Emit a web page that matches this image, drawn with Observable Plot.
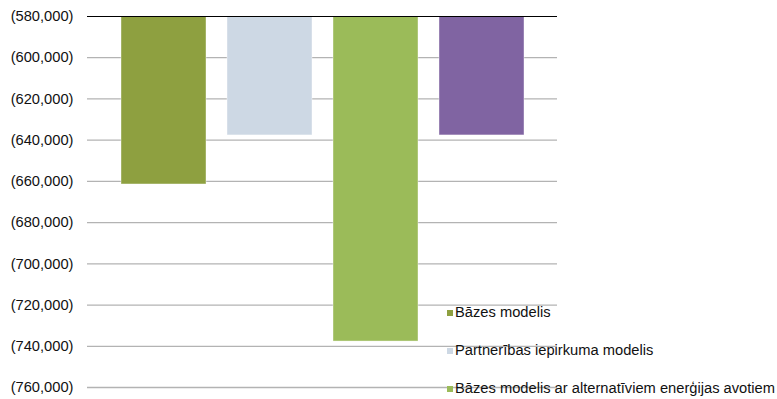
<!DOCTYPE html>
<html>
<head>
<meta charset="utf-8">
<script src="https://cdn.jsdelivr.net/npm/d3@7"></script>
<script src="https://cdn.jsdelivr.net/npm/@observablehq/plot@0.6"></script>
<style>
  html, body { margin: 0; padding: 0; background: #fff; overflow: hidden; }
  #wrap { position: relative; width: 777px; height: 399px; font-family: "Liberation Sans", Arial, sans-serif; }
  #legend { position: absolute; left: 447px; top: 304px; font-size: 14.7px; color: #111; }
  .item { position: absolute; left: 0; white-space: nowrap; height: 17px; line-height: 17px; }
  .sw { display: inline-block; width: 6px; height: 6px; margin-right: 2px; vertical-align: 1px; }
</style>
</head>
<body>
<div id="wrap"></div>
<script>
const categories = [
  "Bāzes modelis",
  "Partnerības iepirkuma modelis",
  "Bāzes modelis ar alternatīviem enerģijas avotiem",
  "Partnerības iepirkuma modelis ar alternatīviem enerģijas avotiem"
];
const values = [-661500, -637700, -737700, -637700];
const colors = ["#8ea040", "#cdd8e4", "#9bbb59", "#8064a2"];
const tickValues = [-580000, -600000, -620000, -640000, -660000, -680000, -700000, -720000, -740000, -760000];
const baseline = -580000;
const legendShown = 3;

const data = categories.map((c, i) => ({ cat: c, value: values[i], color: colors[i] }));
const fmt = d => `(${d3.format(",")(-d)})`;

const chart = Plot.plot({
  width: 777,
  height: 399,
  marginLeft: 87,
  marginRight: 220,
  marginTop: 16,
  marginBottom: 12,
  style: { fontFamily: "Liberation Sans, Arial, sans-serif", fontSize: "14.7px", color: "#111", background: "#fff" },
  x: { domain: categories, paddingInner: 0.2, paddingOuter: 0.307, axis: null },
  y: { domain: [-760000, -580000], ticks: tickValues, tickFormat: fmt, tickSize: 0, tickPadding: 14, label: null },
  marks: [
    Plot.ruleY(tickValues.filter(t => t !== baseline), { stroke: "#b3b3b3", strokeWidth: 1.3 }),
    Plot.barY(data, { x: "cat", y1: baseline, y2: "value", fill: "color", stroke: "#fff", strokeOpacity: 0.5, strokeWidth: 0.8 }),
    Plot.ruleY([baseline], { stroke: "#000", strokeWidth: 1 }),
    Plot.axisY({ ticks: tickValues, tickFormat: fmt, tickSize: 0, tickPadding: 14, fontSize: 14.7, fill: "#111" })
  ]
});

const wrap = document.getElementById("wrap");
wrap.appendChild(chart);

const legend = document.createElement("div");
legend.id = "legend";
data.slice(0, legendShown).forEach((d, i) => {
  const it = document.createElement("div");
  it.className = "item";
  it.style.top = (i * 38.2) + "px";
  const sw = document.createElement("span");
  sw.className = "sw";
  sw.style.background = d.color;
  it.appendChild(sw);
  it.appendChild(document.createTextNode(d.cat));
  legend.appendChild(it);
});
wrap.appendChild(legend);
</script>
</body>
</html>
